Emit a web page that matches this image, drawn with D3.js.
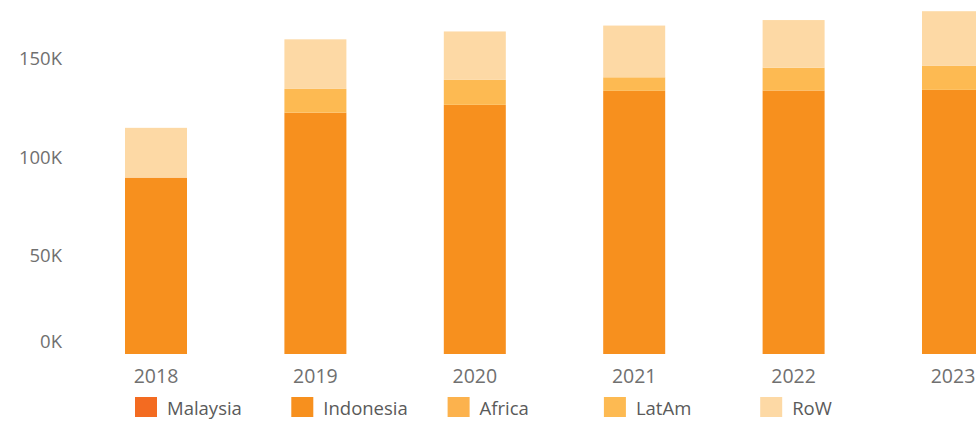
<!DOCTYPE html>
<html>
<head>
<meta charset="utf-8">
<script src="https://cdn.jsdelivr.net/npm/d3@7"></script>
<style>
  html, body { margin: 0; padding: 0; background: #fff; }
  svg { display: block; }
  text { font-family: "Open Sans", "Noto Sans", sans-serif; }
</style>
</head>
<body>
<svg id="chart" width="976" height="422"></svg>
<script>
const years = ["2018", "2019", "2020", "2021", "2022", "2023"];
const seriesNames = ["Malaysia", "Indonesia", "Africa", "LatAm", "RoW"];
const malaysia  = [0, 0, 0, 0, 0, 0];
const indonesia = [89700, 122700, 126700, 133800, 134000, 134300];
const africa    = [0, 0, 0, 0, 0, 0];
const latam     = [0, 12100, 12700, 6900, 11600, 12200];
const row       = [25300, 25200, 24600, 26300, 24200, 27800];
const yTicks = [0, 50000, 100000, 150000];
const colors = ["#F36B21", "#F7901E", "#FCB24D", "#FDBA52", "#FDD9A5"];

const table = years.map((y, i) => ({
  year: y,
  Malaysia: malaysia[i],
  Indonesia: indonesia[i],
  Africa: africa[i],
  LatAm: latam[i],
  RoW: row[i]
}));

const svg = d3.select("#chart");
const step = 159.4, bw = 62, firstLeft = 125;
const pIn = 1 - bw / step;
const r0 = firstLeft - step * pIn / 2;
const x = d3.scaleBand().domain(years).range([r0, r0 + step * years.length])
  .paddingInner(pIn).paddingOuter(pIn / 2);
const y = d3.scaleLinear().domain([0, 150000]).range([354, 59]);
const color = d3.scaleOrdinal().domain(seriesNames).range(colors);

const stacked = d3.stack().keys(seriesNames)(table);

svg.append("g").selectAll("g").data(stacked).join("g")
  .attr("fill", d => color(d.key))
  .selectAll("rect").data(d => d).join("rect")
  .attr("x", d => x(d.data.year))
  .attr("width", x.bandwidth())
  .attr("y", d => y(d[1]))
  .attr("height", d => y(d[0]) - y(d[1]));

// Y axis labels
const yAxis = d3.axisLeft(y).tickValues(yTicks)
  .tickFormat(d => (d / 1000) + "K").tickSize(0).tickPadding(0);
const ya = svg.append("g").attr("transform", "translate(62,0)").call(yAxis);
ya.select(".domain").remove();
ya.selectAll("text")
  .attr("fill", "#707070")
  .style("font-size", "18.5px")
  .attr("dy", "0.32em");
ya.selectAll(".tick").filter(d => d === 0).select("text").attr("y", -12);

// X axis labels
const xAxis = d3.axisBottom(x).tickSize(0).tickPadding(0);
const xa = svg.append("g").attr("transform", "translate(0,366)").call(xAxis);
xa.select(".domain").remove();
xa.selectAll("text")
  .attr("fill", "#707070")
  .style("font-size", "19.5px")
  .attr("dy", "0.85em");

// Legend
const legX0 = 135, legStep = 156.3;
const leg = svg.append("g").selectAll("g").data(seriesNames).join("g")
  .attr("transform", (d, i) => `translate(${legX0 + i * legStep},397)`);
leg.append("rect").attr("width", 22).attr("height", 20).attr("fill", d => color(d));
leg.append("text").attr("x", 32).attr("y", 17.5)
  .attr("fill", "#5a5a5a").style("font-size", "18.5px").text(d => d);
</script>
</body>
</html>
